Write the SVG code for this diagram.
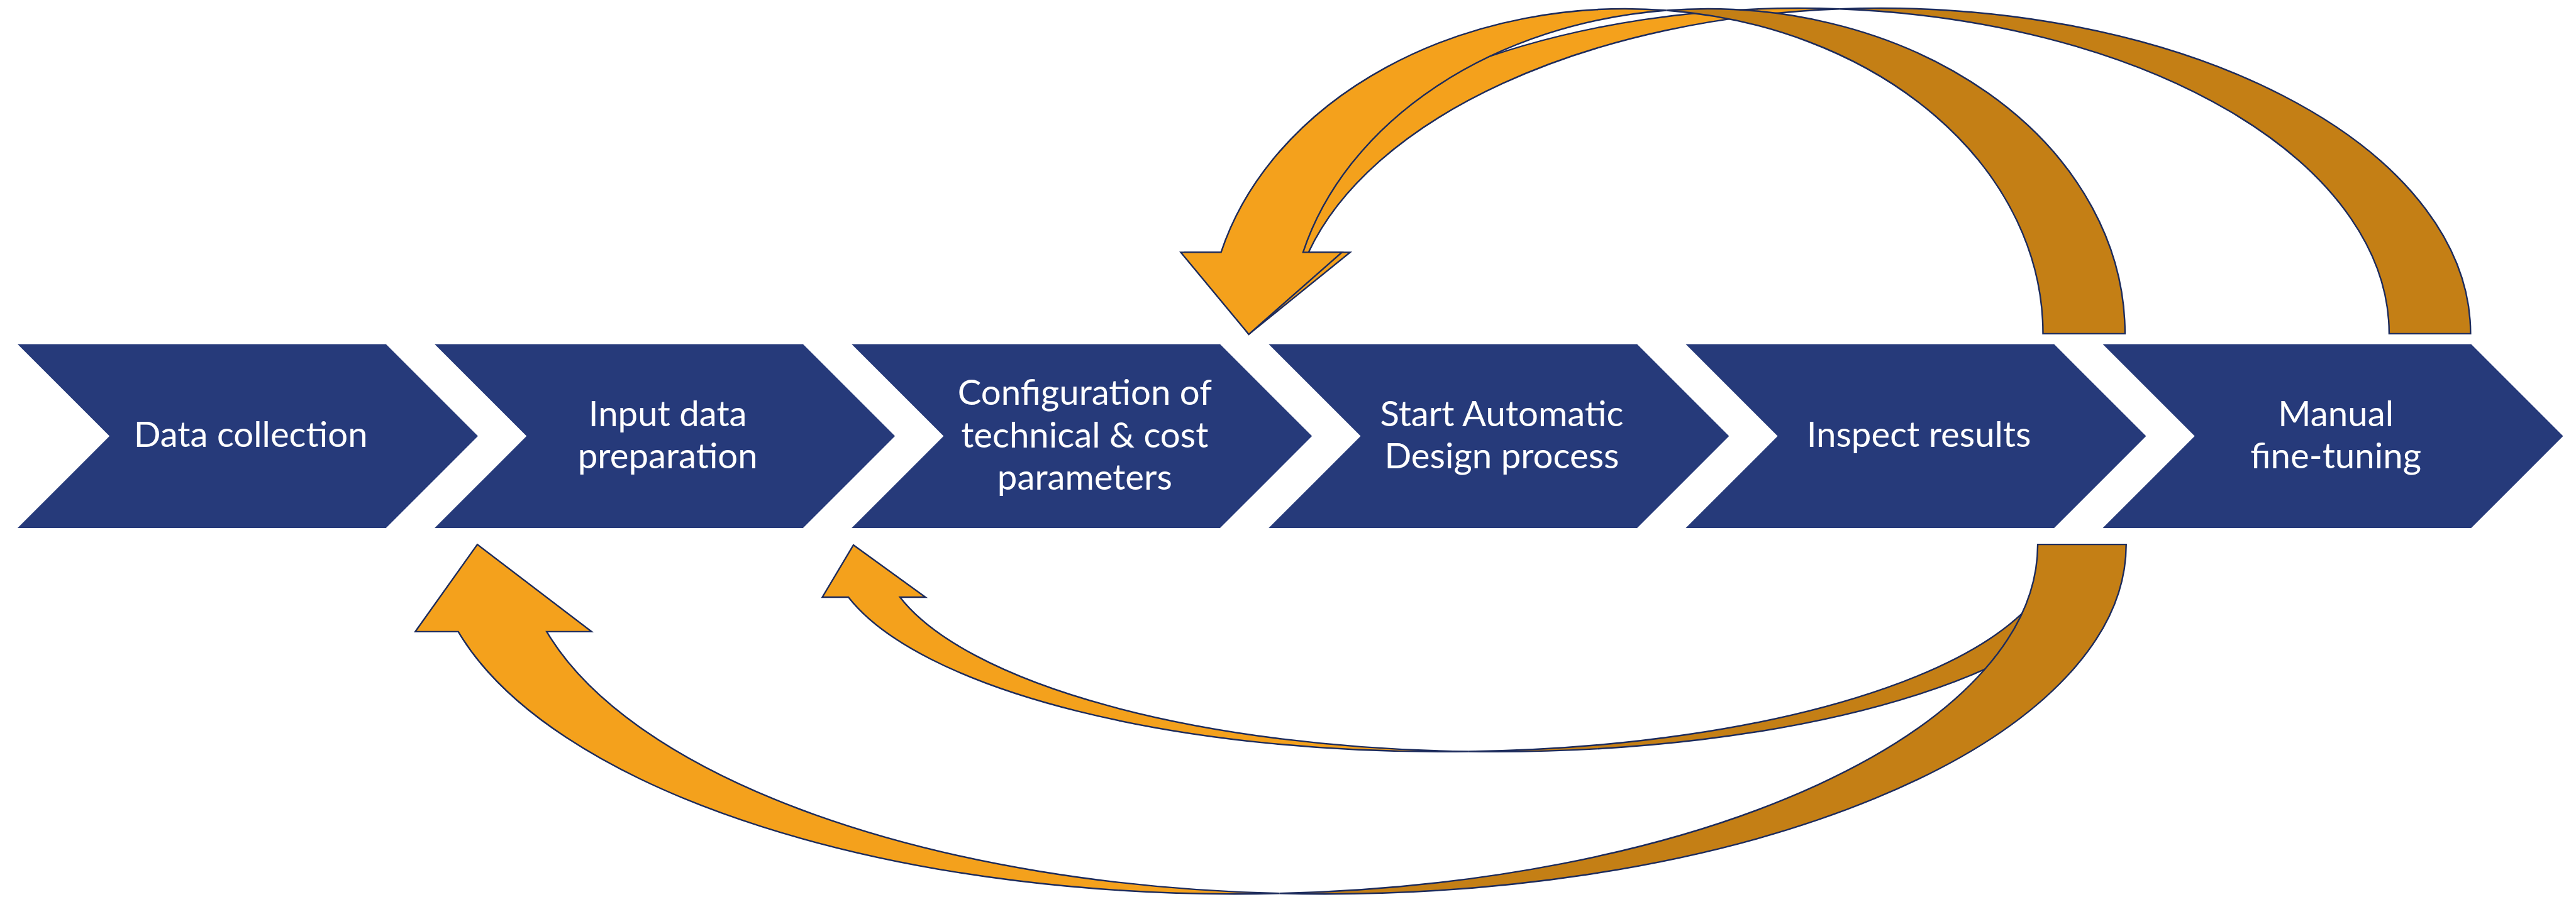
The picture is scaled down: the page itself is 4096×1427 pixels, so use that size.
<svg xmlns="http://www.w3.org/2000/svg" xmlns:xlink="http://www.w3.org/1999/xlink" width="4096" height="1427" viewBox="0 0 4096 1427">
  <style>
    .step { fill: #263A7A; }
    .label { fill: #FFFFFF; font-family: Lato, "Open Sans", "Liberation Sans", sans-serif; font-size: 60.5px; text-anchor: middle; }
    .front { fill: #F4A11C; stroke: #1C2B5C; stroke-width: 2.6; stroke-linejoin: miter; }
    .back { fill: #C47F15; stroke: #1C2B5C; stroke-width: 2.6; stroke-linejoin: miter; }
  </style>
  <defs>
    <polygon id="chev" points="0,588 629,588 786,745 629,902 0,902 157,745"/>
  </defs>
  <rect width="4096" height="1427" fill="#FFFFFF"/>
  <g transform="scale(0.931332)">
    <!-- process steps -->
    <g id="step-data-collection">
      <use xlink:href="#chev" x="30" class="step"/>
      <text class="label" x="428" y="763">Data collection</text>
    </g>
    <g id="step-input-data">
      <use xlink:href="#chev" x="742" class="step"/>
      <text class="label" x="1140" y="728">Input data</text>
      <text class="label" x="1140" y="800">preparation</text>
    </g>
    <g id="step-configuration">
      <use xlink:href="#chev" x="1454" class="step"/>
      <text class="label" x="1852" y="692">Configuration of</text>
      <text class="label" x="1852" y="764">technical &amp; cost</text>
      <text class="label" x="1852" y="836">parameters</text>
    </g>
    <g id="step-automatic-design">
      <use xlink:href="#chev" x="2166" class="step"/>
      <text class="label" x="2564" y="728">Start Automatic</text>
      <text class="label" x="2564" y="800">Design process</text>
    </g>
    <g id="step-inspect">
      <use xlink:href="#chev" x="2878" class="step"/>
      <text class="label" x="3276" y="763">Inspect results</text>
    </g>
    <g id="step-fine-tuning">
      <use xlink:href="#chev" x="3590" class="step"/>
      <text class="label" x="3988" y="728">Manual</text>
      <text class="label" x="3988" y="800">fine-tuning</text>
    </g>

    <!-- feedback loops: curved ribbon arrows built from two offset ellipses -->
    <g id="connectors">
      <!-- fine-tuning back to configuration (over the top, outer) -->
      <g id="loop-finetune-config">
        <path class="back" d="M4218,570 A1008,556 0 0 0 3140.5,15.3 A1008,556 0 0 1 4079,570 Z"/>
        <path class="front" d="M2132,571 L2024,431 L2095,431 A1008,556 0 0 1 3140.5,15.3 A1008,556 0 0 0 2234,431 L2305,431 Z"/>
      </g>
      <!-- inspect results back to configuration (over the top, inner) -->
      <g id="loop-inspect-config">
        <path class="back" d="M3628,570 A713,555 0 0 0 2845,17.7 A713,555 0 0 1 3488,570 Z"/>
        <path class="front" d="M2132,571 L2016,431 L2084.7,431 A713,555 0 0 1 2845,17.7 A713,555 0 0 0 2224.7,431 L2291,431 Z"/>
      </g>
      <!-- inspect results back to configuration (underneath, short) -->
      <g id="loop-inspect-config-lower">
        <path class="back" d="M3600,930 A1049,354 0 0 1 2507,1283.7 A1049,354 0 0 0 3512,930 Z"/>
        <path class="front" d="M1457,931 L1404,1020 L1448.5,1020 A1049,354 0 0 0 2507,1283.7 A1049,354 0 0 1 1536.5,1020 L1580,1020 Z"/>
      </g>
      <!-- inspect results back to input data preparation (underneath, long) -->
      <g id="loop-inspect-input">
        <path class="back" d="M3630,930 A1370,597 0 0 1 2184.5,1526.1 A1370,597 0 0 0 3479,930 Z"/>
        <path class="front" d="M815,930 L709,1079 L782.4,1079 A1370,597 0 0 0 2184.5,1526.1 A1370,597 0 0 1 933.4,1079 L1010,1079 Z"/>
      </g>
    </g>
  </g>
</svg>
